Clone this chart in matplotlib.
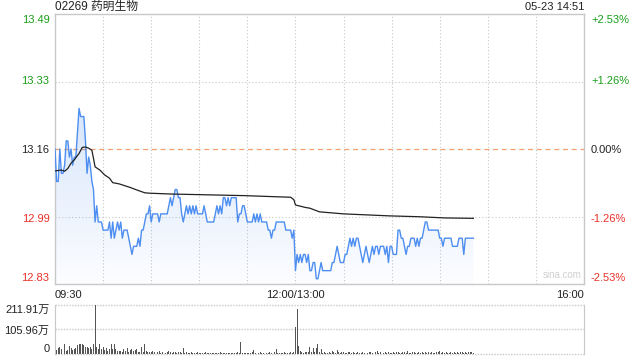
import matplotlib
matplotlib.use("Agg")
import matplotlib.pyplot as plt
import numpy as np
from matplotlib.patches import Polygon

plt.rcParams['font.family'] = ['Liberation Sans', 'Noto Sans CJK SC', 'DejaVu Sans']

# ---------------- data ----------------
title = "02269 药明生物"
stamp = "05-23 14:51"
prev_close = 13.16
price_ticks = [13.49, 13.33, 13.16, 12.99, 12.83]
pct_labels = ["+2.53%", "+1.26%", "0.00%", "-1.26%", "-2.53%"]
time_ticks = [0, 150, 330]
time_labels = ["09:30", "12:00/13:00", "16:00"]
vol_ticks = [211.91, 105.96, 0]
vol_labels = ["211.91万", "105.96万", "0"]

price = [
    13.16, 13.08, 13.08, 13.16, 13.10, 13.10, 13.12, 13.18, 13.18, 13.14,
    13.16, 13.12, 13.14, 13.14, 13.20, 13.26, 13.24, 13.24, 13.24, 13.18,
    13.10, 13.14, 13.12, 13.08, 13.06, 12.98, 13.02, 12.98, 12.98, 12.98,
    12.96, 12.96, 12.96, 12.96, 12.98, 12.94, 12.98, 12.94, 12.96, 12.98,
    12.96, 12.98, 12.94, 12.96, 12.96, 12.96, 12.94, 12.92, 12.90, 12.92,
    12.92, 12.92, 12.94, 12.92, 12.96, 12.96, 12.98, 13.00, 13.00, 13.02,
    12.98, 13.00, 13.00, 13.00, 13.00, 12.98, 13.00, 13.00, 13.00, 13.00,
    13.00, 13.02, 13.04, 13.02, 13.04, 13.06, 13.06, 13.04, 13.04, 13.00,
    12.98, 13.00, 13.02, 13.00, 13.02, 13.00, 13.02, 13.00, 13.02, 13.00,
    13.00, 13.00, 13.00, 13.02, 13.00, 12.98, 12.98, 12.98, 12.98, 12.98,
    13.00, 13.02, 13.00, 13.02, 13.00, 13.04, 13.04, 13.02, 13.04, 13.02,
    13.04, 13.04, 13.04, 13.04, 12.98, 13.00, 13.00, 13.02, 13.02, 13.00,
    12.98, 12.98, 12.98, 12.98, 13.00, 12.98, 13.00, 12.98, 13.00, 12.98,
    12.98, 12.98, 12.98, 12.96, 12.96, 12.94, 12.96, 12.96, 12.98, 12.98,
    12.98, 12.98, 12.98, 12.98, 12.96, 12.96, 12.96, 12.96, 12.94, 12.96,
    12.86, 12.90, 12.88, 12.90, 12.88, 12.90, 12.90, 12.88, 12.90, 12.86,
    12.86, 12.88, 12.88, 12.84, 12.84, 12.86, 12.88, 12.86, 12.86, 12.86,
    12.86, 12.86, 12.86, 12.88, 12.88, 12.90, 12.92, 12.90, 12.88, 12.88,
    12.88, 12.90, 12.90, 12.92, 12.94, 12.92, 12.94, 12.92, 12.94, 12.94,
    12.92, 12.90, 12.88, 12.90, 12.92, 12.90, 12.88, 12.90, 12.92, 12.90,
    12.92, 12.92, 12.90, 12.92, 12.92, 12.92, 12.90, 12.92, 12.88, 12.92,
    12.92, 12.90, 12.90, 12.90, 12.96, 12.96, 12.94, 12.94, 12.92, 12.90,
    12.92, 12.92, 12.94, 12.94, 12.94, 12.92, 12.94, 12.92, 12.94, 12.94,
    12.96, 12.98, 12.98, 12.96, 12.96, 12.96, 12.96, 12.96, 12.96, 12.96,
    12.94, 12.94, 12.92, 12.94, 12.94, 12.94, 12.94, 12.94, 12.92, 12.92,
    12.92, 12.92, 12.94, 12.94, 12.94, 12.90, 12.94, 12.94, 12.94, 12.94,
    12.94, 12.94,
]

avg_minute = [0, 4, 6, 8, 10, 12, 15, 17, 19, 21, 23, 24, 25, 28, 31, 34, 36, 40,
              47, 51, 56, 59, 72, 118, 147, 149, 150, 156, 159, 165, 180, 209,
              227, 243, 261]
avg_price = [13.106, 13.108, 13.105, 13.112, 13.125, 13.133, 13.149, 13.164,
             13.165, 13.162, 13.157, 13.137, 13.116, 13.108, 13.096, 13.088,
             13.077, 13.074, 13.065, 13.059, 13.052, 13.051, 13.049, 13.045,
             13.041, 13.035, 13.022, 13.016, 13.014, 13.005, 13.000, 12.995,
             12.993, 12.990, 12.989]

volume = [
    32, 17, 27, 30, 20, 22, 43, 15, 17, 35,
    27, 17, 20, 27, 39, 42, 45, 45, 39, 30,
    32, 27, 30, 20, 42, 211.91, 32, 20, 42, 22,
    32, 17, 28, 15, 20, 42, 22, 42, 20, 12,
    14, 13, 10, 20, 12, 27, 10, 17, 20, 12,
    17, 22, 10, 8, 32, 10, 42, 13, 8, 10,
    7, 12, 8, 10, 7, 14, 6, 8, 10, 6,
    8, 12, 7, 6, 10, 8, 5, 7, 10, 6,
    28, 5, 7, 4, 6, 8, 5, 4, 6, 7,
    5, 4, 6, 5, 8, 4, 5, 6, 4, 5,
    6, 4, 5, 7, 4, 5, 3, 6, 4, 5,
    4, 6, 5, 4, 7, 5, 52, 6, 5, 4,
    6, 5, 4, 7, 17, 5, 4, 6, 10, 5,
    4, 6, 5, 4, 7, 5, 6, 8, 22, 5,
    4, 6, 5, 7, 4, 6, 5, 8, 6, 7,
    115, 194, 35, 13, 8, 6, 10, 7, 8, 30,
    8, 27, 10, 27, 43, 8, 22, 5, 7, 6,
    5, 8, 6, 13, 7, 5, 17, 8, 6, 10,
    8, 6, 5, 10, 7, 5, 8, 6, 5, 7,
    6, 5, 8, 6, 7, 5, 10, 8, 6, 7,
    8, 13, 5, 7, 10, 6, 8, 5, 7, 6,
    5, 8, 6, 10, 7, 5, 6, 8, 7, 5,
    13, 6, 5, 8, 7, 6, 5, 8, 6, 7,
    5, 8, 6, 7, 5, 10, 6, 5, 8, 7,
    13, 6, 7, 5, 8, 6, 5, 7, 6, 8,
    5, 7, 6, 8, 10, 6, 10, 5, 7, 8,
    10, 6,
]

# ---------------- styling ----------------
GREEN = "#1a9e1a"
RED = "#e8312a"
BLACK = "#222222"
BLUE = "#4d8ef0"
FRAME = "#c8c8c8"
GRID = "#c8c8c8"

minutes = np.arange(len(price))
rng = prev_close * 0.0253
ylo, yhi = prev_close - rng, prev_close + rng

fig = plt.figure(figsize=(6.4, 3.6), dpi=100)
W, H = 640, 360
ax = fig.add_axes([55 / W, 1 - 284 / H, 529 / W, 270 / H])
axv = fig.add_axes([55 / W, 1 - 354 / H, 529 / W, 49 / H])

# main panel
ax.set_xlim(0, 330)
ax.set_ylim(ylo, yhi)
for s in ax.spines.values():
    s.set_color(FRAME)
    s.set_linewidth(1)

for m in range(30, 330, 30):
    ax.axvline(m, color=GRID, lw=0.8, ls=(0, (1, 2)), zorder=1)
for v in [prev_close + rng / 2, prev_close - rng / 2]:
    ax.axhline(v, color=GRID, lw=0.8, ls=(0, (1, 2)), zorder=1)
ax.axhline(prev_close, color="#f0a070", lw=0.9, ls=(0, (4, 3)), zorder=1)

# gradient fill under price line
verts = [(minutes[0], ylo)] + list(zip(minutes, price)) + [(minutes[-1], ylo)]
poly = Polygon(verts, closed=True, facecolor="none", edgecolor="none")
ax.add_patch(poly)
grad = np.zeros((100, 1, 4))
grad[:, 0, 0] = 0.30
grad[:, 0, 1] = 0.55
grad[:, 0, 2] = 0.94
grad[:, 0, 3] = np.linspace(0.22, 0.02, 100)
im = ax.imshow(grad, extent=[0, 330, ylo, 13.26], origin="upper", aspect="auto", zorder=2)
im.set_clip_path(poly)

ax.plot(minutes, price, color=BLUE, lw=1.0, zorder=4)
ax.plot(avg_minute, avg_price, color=BLACK, lw=0.9, zorder=5)

ax.set_yticks(price_ticks)
ax.set_yticklabels([f"{p:.2f}" for p in price_ticks], fontsize=8)
ax.tick_params(axis="y", length=0, pad=4)
left_colors = [GREEN, GREEN, BLACK, RED, RED]
for lab, c in zip(ax.get_yticklabels(), left_colors):
    lab.set_color(c)
labs = ax.get_yticklabels()
labs[0].set_verticalalignment("top")
labs[-1].set_verticalalignment("bottom")

ax.set_xticks(time_ticks)
ax.set_xticklabels(time_labels, fontsize=8, color=BLACK)
ax.tick_params(axis="x", length=0, pad=4)
xl = ax.get_xticklabels()
xl[0].set_horizontalalignment("left")
xl[-1].set_horizontalalignment("right")

axr = ax.twinx()
axr.set_ylim(ylo, yhi)
axr.set_yticks(price_ticks)
axr.set_yticklabels(pct_labels, fontsize=8)
axr.tick_params(axis="y", length=0, pad=5)
for lab, c in zip(axr.get_yticklabels(), left_colors):
    lab.set_color(c)
rl = axr.get_yticklabels()
rl[0].set_verticalalignment("top")
rl[-1].set_verticalalignment("bottom")
for s in axr.spines.values():
    s.set_visible(False)

ax.text(0.995, 0.015, "sina.com", transform=ax.transAxes, ha="right", va="bottom",
        fontsize=7, color="#d0d0d0")

# volume panel
axv.set_xlim(0, 330)
axv.set_ylim(0, vol_ticks[0])
axv.bar(minutes, volume, width=0.6, color="#555555", zorder=3)
for s in ["top", "bottom"]:
    axv.spines[s].set_visible(False)
for s in ["left", "right"]:
    axv.spines[s].set_color(FRAME)
for v in vol_ticks:
    axv.axhline(v, color=GRID, lw=1.0, ls=(0, (1, 1)), zorder=1, clip_on=False)
axv.set_xticks([])
axv.set_yticks(vol_ticks)
axv.set_yticklabels(vol_labels, fontsize=8, color=BLACK)
axv.tick_params(axis="y", length=0, pad=4)
vl = axv.get_yticklabels()
vl[0].set_verticalalignment("top")
vl[-1].set_verticalalignment("bottom")

fig.text(55 / W, 1 - 7 / H, title, ha="left", va="center", fontsize=8.5, color=BLACK)
fig.text(584 / W, 1 - 7 / H, stamp, ha="right", va="center", fontsize=8, color=BLACK)

fig.savefig("out.png", dpi=100)
